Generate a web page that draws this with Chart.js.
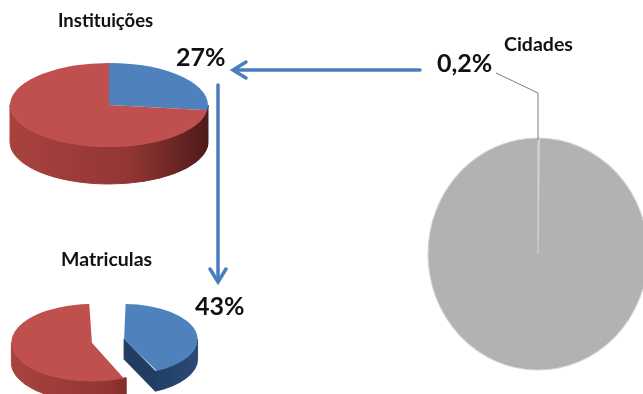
<!DOCTYPE html>
<html lang="pt">
<head>
<meta charset="UTF-8">
<title>Instituições, Matriculas e Cidades</title>
<script src="https://cdn.jsdelivr.net/npm/chart.js"></script>
<style>
    body { margin: 0; background: #fff; }
    .wrap { position: relative; width: 643px; height: 394px; overflow: hidden; font-family: Lato, 'Open Sans', sans-serif; }
    .pie { position: absolute; }
    .lbl { position: absolute; font-weight: 700; line-height: 1; white-space: nowrap; color: #111; z-index: 3; }
    svg { position: absolute; left: 0; top: 0; z-index: 2; }
</style>
</head>
<body>
<div class="wrap">
    <div class="pie" style="left:-11px; top:-15px; width:240px; height:240px;"><canvas id="instChart"></canvas></div>
    <div class="pie" style="left:-12px; top:221px; width:240px; height:240px;"><canvas id="matrChart"></canvas></div>
    <div class="pie" style="left:408px; top:124px; width:260px; height:260px;"><canvas id="cidChart"></canvas></div>

    <svg width="643" height="394">
        <g stroke="#4a7ebb" stroke-width="3.5" fill="none" stroke-linecap="round">
            <line x1="420" y1="70" x2="235" y2="70"/>
            <polyline points="246,62 233,70 246,78"/>
            <line x1="218" y1="85" x2="218" y2="279"/>
            <polyline points="210,269 218,282 226,269"/>
        </g>
        <polyline points="496,73 538,93 538,140" stroke="#7f7f7f" stroke-width="1" fill="none"/>
    </svg>

    <div class="lbl" id="tInst" style="left:58px; font-size:18.5px;">Instituições</div>
    <div class="lbl" id="pInst" style="left:176px; font-size:25px;">27%</div>
    <div class="lbl" id="tMatr" style="left:61px; font-size:19.5px;">Matriculas</div>
    <div class="lbl" id="pMatr" style="left:195px; font-size:25px;">43%</div>
    <div class="lbl" id="tCid" style="left:504px; font-size:19.5px;">Cidades</div>
    <div class="lbl" id="pCid" style="left:437px; font-size:25px;">0,2%</div>
</div>

<script>
    // dados
    const instLabels = ['Participantes', 'Demais'];
    const instValues = [27, 73];
    const matrLabels = ['Participantes', 'Demais'];
    const matrValues = [43, 57];
    const cidLabels = ['Participantes', 'Demais'];
    const cidValues = [0.2, 99.8];

    const azul = '#4f81bd', vermelho = '#c0504d', cinza = '#b2b2b2';

    // baseline das legendas (y em px)
    const baselines = { tInst: 27, pInst: 66, tMatr: 266, pMatr: 315, tCid: 51, pCid: 72 };
    Object.keys(baselines).forEach(function(id) {
        const el = document.getElementById(id);
        const size = parseFloat(el.style.fontSize);
        el.style.top = (baselines[id] - 0.887 * size) + 'px';
    });

    // mesma conta que o ArcElement usa para o offset
    function geom(arc, k, cy0) {
        const off = (arc.options.offset || 0) / 4;
        const circ = arc.endAngle - arc.startAngle;
        const fix = 1 - Math.sin(Math.min(Math.PI, circ));
        const half = (arc.startAngle + arc.endAngle) / 2;
        return {
            off: off,
            r: arc.outerRadius + off * fix,
            cx: arc.x + Math.cos(half) * off,
            cy: cy0 + (arc.y - cy0 + Math.sin(half) * off) * k
        };
    }

    // pizza "3D": achata o topo e desenha a lateral antes
    const pie3d = {
        id: 'pie3d',
        beforeDatasetsDraw(chart, args, opts) {
            const ctx = chart.ctx;
            const k = opts.tilt || 1;
            const depth = opts.depth || 0;
            const arcs = chart.getDatasetMeta(0).data;
            const cy0 = (chart.chartArea.top + chart.chartArea.bottom) / 2;
            if (depth > 0) {
                arcs.forEach(function(arc, i) {
                    const g = geom(arc, k, cy0);
                    const cols = opts.sides[i];
                    const grad = ctx.createLinearGradient(g.cx - g.r, 0, g.cx + g.r, 0);
                    grad.addColorStop(0, cols[0]);
                    grad.addColorStop(0.6, cols[1]);
                    grad.addColorStop(1, cols[2]);
                    ctx.lineWidth = 1;
                    if (g.off > 0) {
                        [[arc.startAngle, -1], [arc.endAngle, 1]].forEach(function(p) {
                            const a = p[0];
                            if (Math.sin(a + p[1] * Math.PI / 2) < 0.05) return;
                            const px = g.cx + g.r * Math.cos(a), py = g.cy + g.r * k * Math.sin(a);
                            ctx.beginPath();
                            ctx.moveTo(g.cx, g.cy);
                            ctx.lineTo(px, py);
                            ctx.lineTo(px, py + depth);
                            ctx.lineTo(g.cx, g.cy + depth);
                            ctx.closePath();
                            ctx.fillStyle = opts.walls[i];
                            ctx.strokeStyle = opts.walls[i];
                            ctx.fill();
                            ctx.stroke();
                        });
                    }
                    const s = Math.max(arc.startAngle, 0), e = Math.min(arc.endAngle, Math.PI);
                    if (e > s) {
                        ctx.beginPath();
                        ctx.ellipse(g.cx, g.cy, g.r, g.r * k, 0, s, e);
                        ctx.ellipse(g.cx, g.cy + depth, g.r, g.r * k, 0, e, s, true);
                        ctx.closePath();
                        ctx.fillStyle = grad;
                        ctx.strokeStyle = grad;
                        ctx.fill();
                        ctx.stroke();
                    }
                });
            }
            ctx.save();
            ctx.translate(0, cy0);
            ctx.scale(1, k);
            ctx.translate(0, -cy0);
        },
        afterDatasetsDraw(chart) {
            chart.ctx.restore();
        }
    };

    function makePie(id, labels, values, colors, radius, look, extra) {
        return new Chart(document.getElementById(id), {
            type: 'pie',
            data: {
                labels: labels,
                datasets: [Object.assign({
                    data: values,
                    backgroundColor: colors,
                    borderWidth: 0,
                    clip: false
                }, extra)]
            },
            options: {
                responsive: true,
                maintainAspectRatio: false,
                animation: false,
                events: [],
                radius: radius,
                layout: { padding: 0 },
                plugins: {
                    legend: { display: false },
                    tooltip: { enabled: false },
                    pie3d: look
                }
            },
            plugins: [pie3d]
        });
    }

    makePie('instChart', instLabels, instValues, [azul, vermelho], 99, {
        tilt: 0.424, depth: 37,
        sides: [['#2b4d7a', '#22406a', '#1a3250'], ['#a8423f', '#923634', '#4e1a19']],
        walls: ['#23406a', '#7a2c2a']
    });

    makePie('matrChart', matrLabels, matrValues, [azul, vermelho], 64, {
        tilt: 0.48, depth: 20,
        sides: [['#1b3150', '#1f3a5e', '#2a4a74'], ['#a8423f', '#923634', '#561d1c']],
        walls: ['#213d62', '#7a2c2a']
    }, { offset: 66 });

    makePie('cidChart', cidLabels, cidValues, [cinza, cinza], 110, {
        tilt: 1.055, depth: 0
    }, { borderWidth: 1, borderColor: '#d4d4d4' });
</script>
</body>
</html>
